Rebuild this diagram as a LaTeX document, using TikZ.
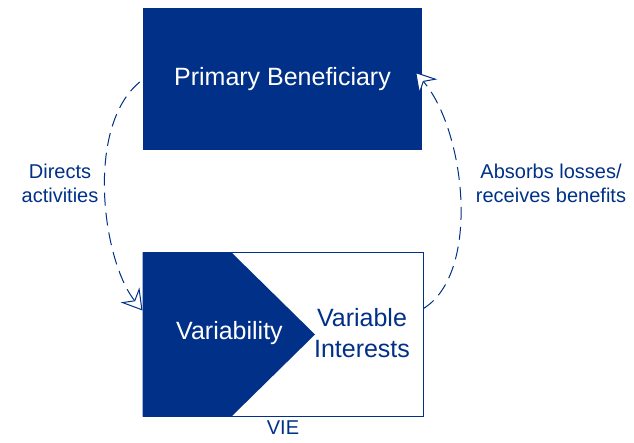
\documentclass[tikz,border=0pt]{standalone}
\usepackage{fontspec}
\setmainfont{Liberation Sans}
\usepackage{tikz}
\usetikzlibrary{positioning, arrows.meta, calc}
\definecolor{vieblue}{HTML}{003087}

\begin{document}
\begin{tikzpicture}[
  x=1pt, y=1pt,
  every node/.style={align=center, font=\fontsize{20}{24}\selectfont, text=vieblue},
  block/.style={
    rectangle, fill=vieblue, minimum width=279pt, minimum height=142pt, inner sep=0pt,
    text=white, font=\fontsize{25}{30}\selectfont
  },
  entity/.style={
    rectangle, draw=vieblue, line width=1pt, fill=white,
    minimum width=280pt, minimum height=163pt, inner sep=0pt
  },
  big/.style={font=\fontsize{25}{31}\selectfont},
  flow/.style={
    -{Stealth[open, fill=white, length=20pt, width=24pt, inset=7pt, line width=1pt]},
    draw=vieblue, line width=1pt, dash pattern=on 13pt off 7pt
  },
]
\useasboundingbox (0,0) rectangle (634,442);
\node[block]  (pb)  at (282.5,363)   {Primary Beneficiary};
\node[entity] (vie) at (283,107.5)   {};
\fill[vieblue] (vie.north west) -- ([xshift=89pt]vie.north west) -- ([xshift=32pt]vie.center)
  -- ([xshift=89pt]vie.south west) -- (vie.south west) -- cycle;
\node[big, text=white] (var)  at (229.5,109) {Variability};
\node[big]             (vint) at (362,109)   {Variable\\Interests};
\node (vielbl)  [below=1pt of vie]   {VIE};
\node (directs) at (60,259)  {Directs\\activities};
\node (absorbs) at (551,259) {Absorbs losses/\\receives benefits};
\draw[flow] ([xshift=-3pt,yshift=-3pt]pb.west) .. controls +(-55,-45) and +(-40,50) .. ([yshift=24pt]vie.west);
\draw[flow] ([yshift=26pt]vie.east) .. controls +(58,36) and +(50,-58) .. ([xshift=-7pt,yshift=7pt]pb.east);
\end{tikzpicture}
\end{document}
